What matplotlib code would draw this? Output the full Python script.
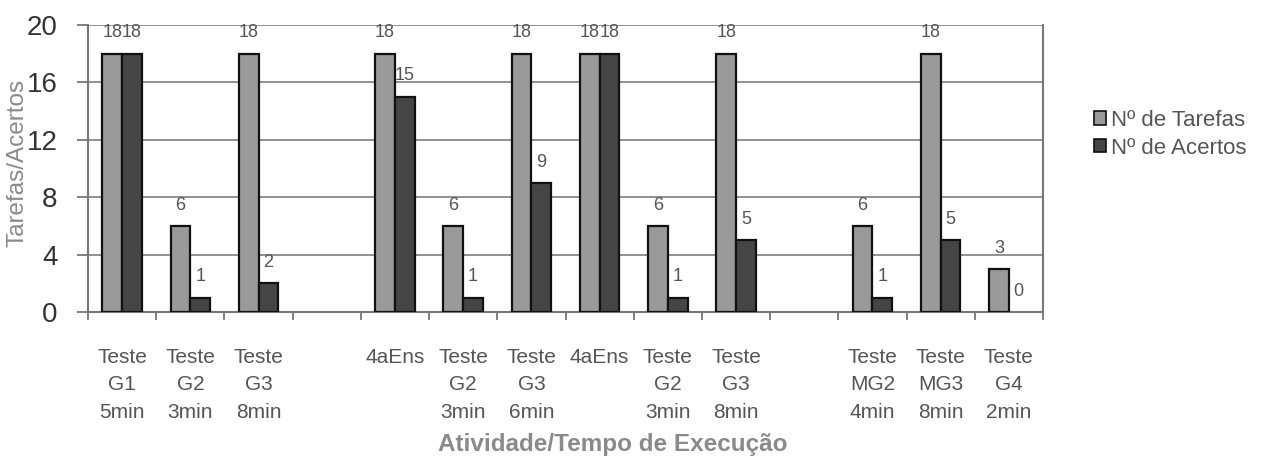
import matplotlib
matplotlib.use("Agg")
import matplotlib.pyplot as plt
import numpy as np
from matplotlib.patches import Patch

categories = ["Teste\nG1\n5min", "Teste\nG2\n3min", "Teste\nG3\n8min", "",
              "4aEns", "Teste\nG2\n3min", "Teste\nG3\n6min", "4aEns",
              "Teste\nG2\n3min", "Teste\nG3\n8min", "",
              "Teste\nMG2\n4min", "Teste\nMG3\n8min", "Teste\nG4\n2min"]
tarefas = [18, 6, 18, None, 18, 6, 18, 18, 6, 18, None, 6, 18, 3]
acertos = [18, 1, 2, None, 15, 1, 9, 18, 1, 5, None, 1, 5, 0]
series_names = ["Nº de Tarefas", "Nº de Acertos"]
yticks = [0, 4, 8, 12, 16, 20]

plt.rcParams['font.family'] = ['Liberation Sans', 'DejaVu Sans']

fig = plt.figure(figsize=(12.63, 4.61), dpi=100)
ax = fig.add_axes([88/1263, 1-312/461, (1043-88)/1263, (312-25)/461])

n = len(categories)
x = np.arange(n)
w = 0.29
col_t = "#9a9a9a"
col_a = "#454545"
txt_col = "#555555"

for i in range(n):
    if tarefas[i] is None:
        continue
    for off, val, col in [(-w/2, tarefas[i], col_t), (w/2, acertos[i], col_a)]:
        ax.bar(x[i] + off, val, width=w, color=col, edgecolor="#111111",
               linewidth=1.6 if val > 0 else 0, zorder=3)
        ax.annotate(str(val), (x[i] + off, val), xytext=(0, 15),
                    textcoords="offset points", ha="center", va="center",
                    fontsize=13, color=txt_col, zorder=4)

ax.set_xlim(-0.5, n - 0.5)
ax.set_ylim(0, 20)
ax.set_yticks(yticks)
ax.set_yticklabels([str(v) for v in yticks], fontsize=20, color="#333333")
ax.yaxis.grid(True, color="#888888", linewidth=1.3, zorder=0)
ax.set_axisbelow(True)

ax.set_xticks(x)
ax.set_xticklabels(categories, fontsize=15, color="#555555", linespacing=1.55)
ax.set_xticks(np.arange(n + 1) - 0.5, minor=True)
ax.tick_params(axis="x", which="major", length=0, pad=26)
ax.tick_params(axis="x", which="minor", length=6, width=1.3, color="#777777", direction="out")
ax.tick_params(axis="y", length=8, width=1.3, color="#777777", direction="out", pad=14)

for s in ["left", "bottom", "right", "top"]:
    ax.spines[s].set_color("#777777")
    ax.spines[s].set_linewidth(1.5)
ax.spines["top"].set_visible(False)

ax.set_ylabel("Tarefas/Acertos", fontsize=17.5, color="#8a8a8a")
ax.set_xlabel("Atividade/Tempo de Execução", fontsize=17.5, color="#8a8a8a",
              fontweight="bold")
ax.yaxis.set_label_coords(-0.062, 0.52)
ax.xaxis.set_label_coords(0.55, -0.42)

handles = [Patch(facecolor=col_t, edgecolor="#111111", linewidth=1.2),
           Patch(facecolor=col_a, edgecolor="#111111", linewidth=1.2)]
fig.legend(handles, series_names, loc="upper left", bbox_to_anchor=(1094/1263, 1-110/461),
           frameon=False, fontsize=16, labelcolor="#555555", handlelength=0.55,
           handleheight=0.55, handletextpad=0.2, labelspacing=0.3, borderaxespad=0,
           borderpad=0)

fig.savefig("out.png", dpi=100)
